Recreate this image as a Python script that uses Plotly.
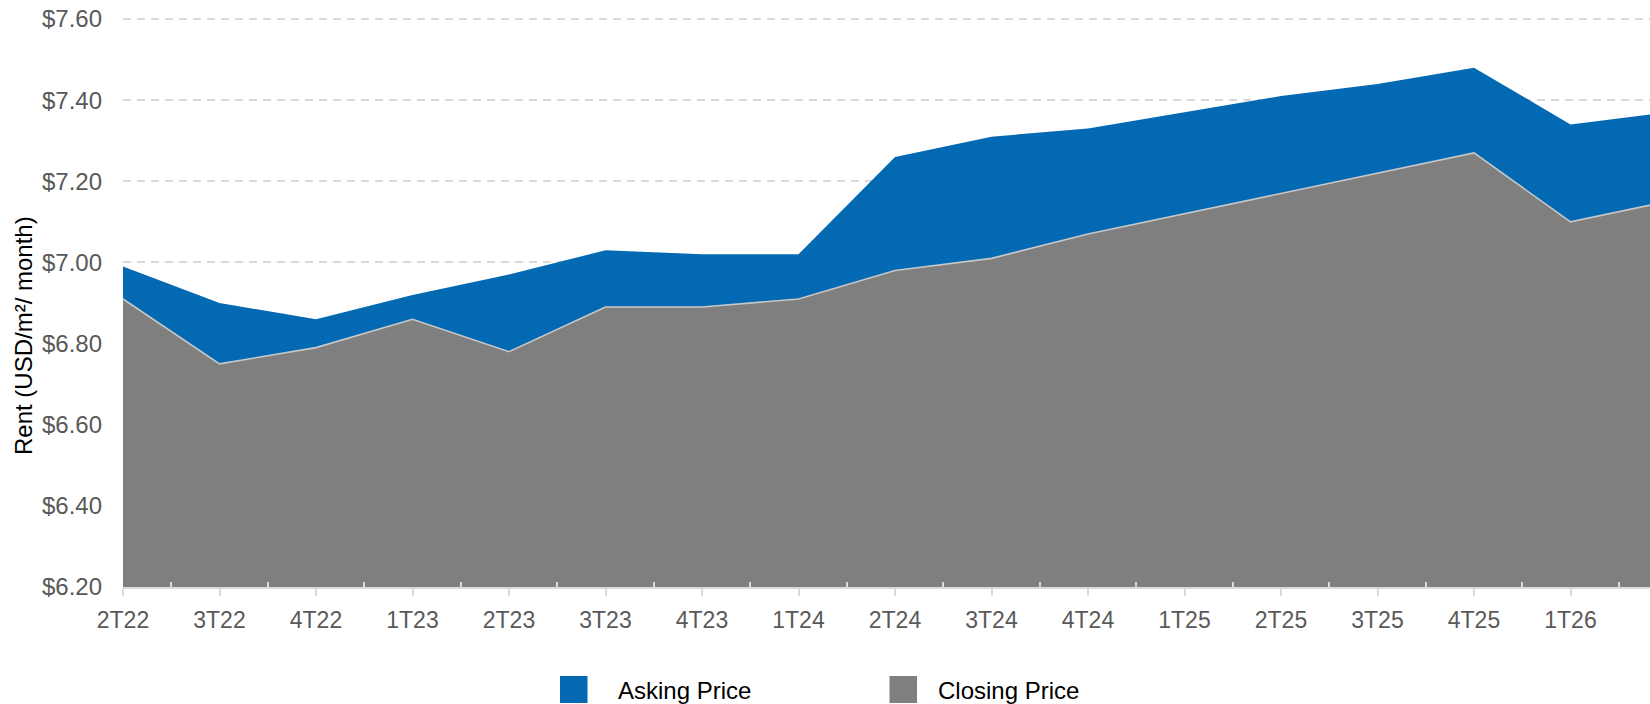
import plotly.graph_objects as go

# ---- data ----
quarters = ["2T22", "3T22", "4T22", "1T23", "2T23", "3T23", "4T23", "1T24", "2T24",
            "3T24", "4T24", "1T25", "2T25", "3T25", "4T25", "1T26", "2T26"]
asking_price = [6.99, 6.90, 6.86, 6.92, 6.97, 7.03, 7.02, 7.02, 7.26,
                7.31, 7.33, 7.37, 7.41, 7.44, 7.48, 7.34, 7.37]
closing_price = [6.91, 6.75, 6.79, 6.86, 6.78, 6.89, 6.89, 6.91, 6.98,
                 7.01, 7.07, 7.12, 7.17, 7.22, 7.27, 7.10, 7.15]
y_ticks = [6.2, 6.4, 6.6, 6.8, 7.0, 7.2, 7.4, 7.6]
series_names = ["Asking Price", "Closing Price"]
y_title = "Rent (USD/m²/ month)"

BLUE = "#0469b3"
GRAY = "#7f7f7f"

W, H = 1650, 704
L, R, T, B = 123, 0, 13, 117
PW, PH = W - L - R, H - T - B
PX_PER_UNIT = 568 / 1.4          # 6.20 -> y=587, 7.60 -> y=19
Y_TOP = 6.2 + PH / PX_PER_UNIT   # headroom so the 7.60 grid line is drawn

def px_x(px):
    return (px - L) / PW

def px_y(py):
    return (H - B - py) / PH

idx = list(range(len(quarters)))

fig = go.Figure()
fig.add_trace(go.Scatter(
    x=idx, y=asking_price, name=series_names[0], mode="lines",
    line=dict(color=BLUE, width=0), fill="tozeroy", fillcolor=BLUE,
    showlegend=False, hoverinfo="skip"))
fig.add_trace(go.Scatter(
    x=idx, y=closing_price, name=series_names[1], mode="lines",
    line=dict(color="#c8c8c8", width=1.6), fill="tozeroy", fillcolor=GRAY,
    showlegend=False, hoverinfo="skip"))

fig.update_layout(
    width=W, height=H, autosize=False,
    margin=dict(l=L, r=R, t=T, b=B, pad=0),
    paper_bgcolor="white", plot_bgcolor="white",
    font=dict(family="Arial, Liberation Sans, sans-serif", size=24, color="#595959"),
    showlegend=False,
    xaxis=dict(
        range=[0, (W - L) / 96.5], tickmode="array", tickvals=idx, ticktext=quarters,
        ticks="outside", ticklen=7, tickwidth=2, tickcolor="#d9d9d9",
        showline=True, linecolor="#d9d9d9", linewidth=2,
        showgrid=False, zeroline=False, ticklabelstandoff=4,
        tickfont=dict(size=23, color="#595959"),
        minor=dict(ticks="inside", tickmode="linear", tick0=0.5, dtick=1,
                   ticklen=5, tickwidth=1.5, tickcolor="#d9d9d9", showgrid=False),
    ),
    yaxis=dict(
        range=[6.2, Y_TOP], tickmode="array", tickvals=y_ticks, tickformat="$.2f",
        showgrid=True, gridcolor="#d9d9d9", gridwidth=1.5, griddash="8px,6px",
        zeroline=False, showline=False, ticks="", ticklabelstandoff=20,
        tickfont=dict(size=24, color="#595959"),
    ),
)

# axis title (placed as rotated text)
fig.add_annotation(
    text=y_title, xref="paper", yref="paper", x=px_x(24), y=px_y(336),
    textangle=-90, showarrow=False, xanchor="center", yanchor="middle",
    font=dict(size=24, color="#000000"))

# legend drawn manually: squares + labels
legend_colors = [BLUE, GRAY]
square_left = [560, 889.5]
text_left = [616, 935.5]
for name, col, sl, tl in zip(series_names, legend_colors, square_left, text_left):
    fig.add_shape(type="rect", xref="paper", yref="paper",
                  x0=px_x(sl), x1=px_x(sl + 27.5), y0=px_y(703), y1=px_y(676),
                  fillcolor=col, line=dict(width=0))
    fig.add_annotation(text=name, xref="paper", yref="paper",
                       x=px_x(tl), y=px_y(690), showarrow=False,
                       xanchor="left", yanchor="middle",
                       font=dict(size=24, color="#000000"))

fig.write_html("out.html", config={"displayModeBar": False},
               post_script="document.body.style.margin='0';document.body.style.overflow='hidden';")
